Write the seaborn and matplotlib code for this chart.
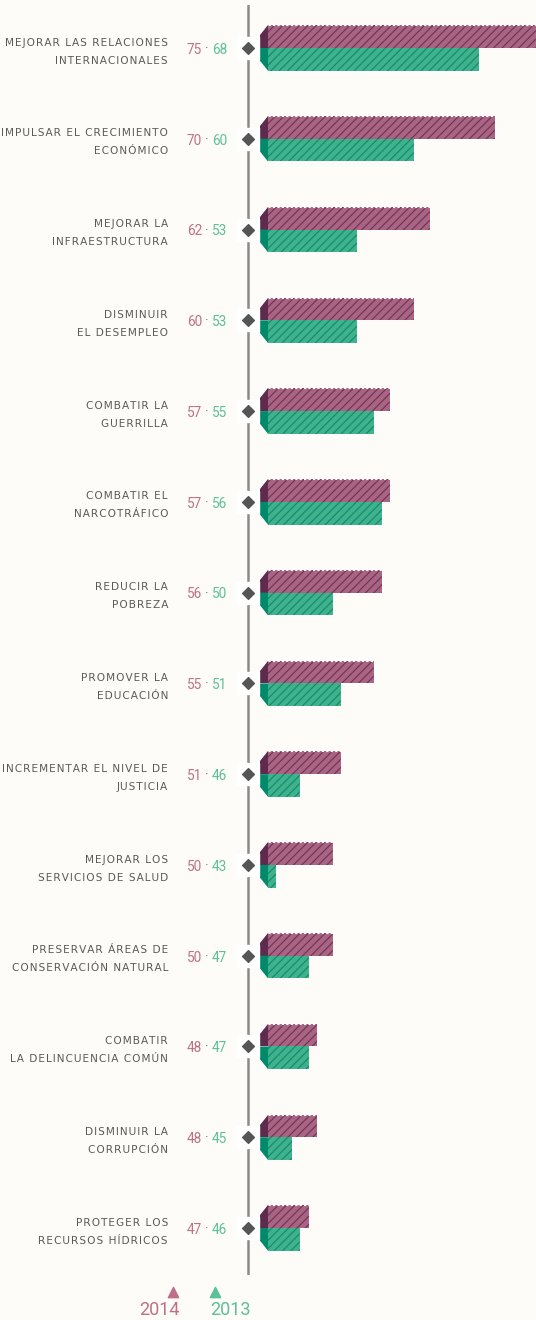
import numpy as np
import pandas as pd
import matplotlib
matplotlib.use('Agg')
import matplotlib.pyplot as plt
from matplotlib.patches import Polygon
import seaborn as sns

# data
temas = [
    "MEJORAR LAS RELACIONES\nINTERNACIONALES",
    "IMPULSAR EL CRECIMIENTO\nECONÓMICO",
    "MEJORAR LA\nINFRAESTRUCTURA",
    "DISMINUIR\nEL DESEMPLEO",
    "COMBATIR LA\nGUERRILLA",
    "COMBATIR EL\nNARCOTRÁFICO",
    "REDUCIR LA\nPOBREZA",
    "PROMOVER LA\nEDUCACIÓN",
    "INCREMENTAR EL NIVEL DE\nJUSTICIA",
    "MEJORAR LOS\nSERVICIOS DE SALUD",
    "PRESERVAR ÁREAS DE\nCONSERVACIÓN NATURAL",
    "COMBATIR\nLA DELINCUENCIA COMÚN",
    "DISMINUIR LA\nCORRUPCIÓN",
    "PROTEGER LOS\nRECURSOS HÍDRICOS",
]
v2014 = [75, 70, 62, 60, 57, 57, 56, 55, 51, 50, 50, 48, 48, 47]
v2013 = [68, 60, 53, 53, 55, 56, 50, 51, 46, 43, 47, 47, 45, 46]
years = ["2014", "2013"]

df = pd.DataFrame({
    'tema': temas * 2,
    'anio': ["2014"] * len(temas) + ["2013"] * len(temas),
    'valor': v2014 + v2013,
})

bg = '#fdfcf8'
face = {'2014': '#aa6483', '2013': '#3db28c'}
hatchc = {'2014': '#6c3254', '2013': '#14876a'}
side = {'2014': '#5e2a4e', '2013': '#00896a'}
txtc = {'2014': '#bf6f8a', '2013': '#5cc098'}

sns.set_style('white')
plt.rcParams['font.family'] = ['Roboto', 'DejaVu Sans']
plt.rcParams['hatch.linewidth'] = 0.8


def spaced(s):
    # letter spacing with hair spaces
    return '\n'.join('\u200a'.join(line) for line in s.split('\n'))


W, H = 536, 1320
fig = plt.figure(figsize=(W / 100, H / 100), dpi=100, facecolor=bg)

top_px, bot_px = 5, 1275
bar_left = 268
ylim = (13.518, -0.474)
ax = fig.add_axes([bar_left / W, 1 - bot_px / H, (W - bar_left) / W, (bot_px - top_px) / H])
axl = fig.add_axes([0, 1 - bot_px / H, bar_left / W, (bot_px - top_px) / H])
for a in (ax, axl):
    a.set_facecolor('none')

sns.barplot(data=df, x='valor', y='tema', hue='anio', hue_order=years,
            palette=face, orient='h', width=0.5, saturation=1,
            legend=False, ax=ax)
xmin, xmax = 42, 75
ax.set_xlim(xmin, xmax)
ax.set_ylim(*ylim)
ax.axis('off')

px_per_unit = (W - bar_left) / (xmax - xmin)
d = 8 / px_per_unit
ch = 10 / ((bot_px - top_px) / (ylim[0] - ylim[1]))

for yr, cont in zip(years, ax.containers):
    for p in cont.patches:
        p.set_hatch('////')
        p.set_edgecolor(hatchc[yr])
        p.set_linewidth(0)
        y0, h, xr = p.get_y(), p.get_height(), p.get_x() + p.get_width()
        x0, x1 = xmin - d, xmin
        if yr == '2014':
            pts = [(x1, y0), (x1, y0 + h), (x0, y0 + h), (x0, y0 + ch)]
            ax.plot([xmin, xr, xr], [y0, y0, y0 + h], color='white', lw=0.8,
                    ls=(0, (2, 2)), solid_capstyle='butt')
        else:
            pts = [(x0, y0), (x1, y0), (x1, y0 + h), (x0, y0 + h - ch)]
            ax.plot([xmin, xr, xr], [y0 + h, y0 + h, y0], color='white', lw=0.8,
                    ls=(0, (2, 2)), solid_capstyle='butt')
        ax.add_patch(Polygon(pts, closed=True, facecolor=side[yr],
                             edgecolor='none', clip_on=False, zorder=3))

# left column: axis line, diamonds, labels and values
axl.set_xlim(0, bar_left)
axl.set_ylim(*ylim)
axl.axis('off')
pos = np.arange(len(temas))
axl.axvline(248, color='#8a8a8a', lw=1.8, zorder=1)
axl.scatter(np.full(len(pos), 248), pos, marker='s', s=250, color='white', zorder=2)
axl.scatter(np.full(len(pos), 248), pos, marker='D', s=36, color='#555555', zorder=3)

for i, t in enumerate(temas):
    axl.text(168, i + 0.04, spaced(t), ha='right', va='center', fontsize=7.6,
             color='#5a5a5a', linespacing=2.0, family=['DejaVu Sans'])
    axl.text(202, i + 0.02, str(v2014[i]), ha='right', va='center',
             fontsize=9.8, color=txtc['2014'])
    axl.text(207, i + 0.02, '·', ha='center', va='center', fontsize=9.8,
             color='#777777')
    axl.text(212, i + 0.02, str(v2013[i]), ha='left', va='center',
             fontsize=9.8, color=txtc['2013'])

# legend
axg = fig.add_axes([0, 0, 1, 1])
axg.set_xlim(0, W)
axg.set_ylim(H, 0)
axg.axis('off')
axg.set_facecolor('none')
axg.scatter([173], [1292], marker='^', s=55, color=txtc['2014'])
axg.scatter([215], [1292], marker='^', s=55, color=txtc['2013'])
axg.text(159, 1310, '2014', ha='center', va='center', fontsize=13, color=txtc['2014'])
axg.text(230, 1310, '2013', ha='center', va='center', fontsize=13, color=txtc['2013'])

fig.savefig('out.png', dpi=100, facecolor=bg)
